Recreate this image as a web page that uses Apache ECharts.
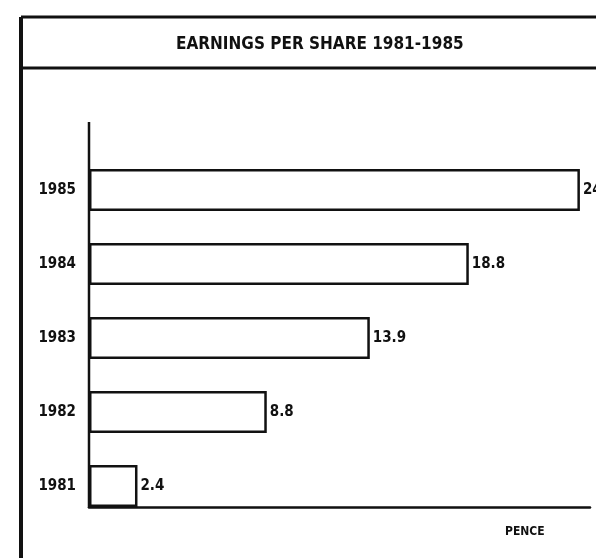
<!DOCTYPE html>
<html>
<head>
<meta charset="utf-8">
<script src="https://cdn.jsdelivr.net/npm/echarts@6/dist/echarts.min.js"></script>
<style>
  html, body { margin: 0; padding: 0; background: #fff; }
  #chart { width: 596px; height: 558px; }
</style>
</head>
<body>
<div id="chart"></div>
<script>
const years = ["1981", "1982", "1983", "1984", "1985"];
const earnings = [2.4, 8.8, 13.9, 18.8, 24.3];
const titleText = "EARNINGS PER SHARE 1981-1985";
const unitText = "PENCE";

const chart = echarts.init(document.getElementById("chart"));
const ink = "#111";
const narrow = "'Liberation Sans Narrow', 'DejaVu Sans Condensed', sans-serif";

chart.setOption({
    animation: false,
    backgroundColor: "#fff",
    grid: { left: 89, right: 6, top: 153, bottom: 35 },
    xAxis: {
        type: "value",
        min: 0,
        max: 24.8,
        // baseline sits on the bottom edge of the 1981 bar
        offset: -16,
        axisLine: { show: true, lineStyle: { color: ink, width: 2.5 } },
        axisTick: { show: false },
        axisLabel: { show: false },
        splitLine: { show: false },
    },
    yAxis: {
        type: "category",
        data: years,
        axisLine: { show: false },
        axisTick: { show: false },
        axisLabel: {
            color: ink,
            fontFamily: narrow,
            fontWeight: "bold",
            fontSize: 15,
            margin: 13,
        },
    },
    series: [
        {
            type: "bar",
            data: earnings,
            barWidth: 42,
            itemStyle: { color: "#fff", borderColor: ink, borderWidth: 2.5 },
            label: {
                show: true,
                position: "right",
                distance: 3,
                color: ink,
                fontFamily: narrow,
                fontWeight: "bold",
                fontSize: 15,
            },
        },
    ],
    graphic: [
        // outer frame and title box
        { type: "line", shape: { x1: 21, y1: 17, x2: 596, y2: 17 }, style: { stroke: ink, lineWidth: 3 } },
        { type: "line", shape: { x1: 21, y1: 17, x2: 21, y2: 558 }, style: { stroke: ink, lineWidth: 4 } },
        { type: "line", shape: { x1: 21, y1: 68, x2: 596, y2: 68 }, style: { stroke: ink, lineWidth: 3 } },
        // vertical axis rule, running from above the first bar down to the baseline
        { type: "line", shape: { x1: 89, y1: 122, x2: 89, y2: 508 }, style: { stroke: ink, lineWidth: 2.5 } },
        {
            type: "text", left: 176, top: 36,
            style: { text: titleText, fill: ink, font: "bold 17px " + narrow },
        },
        {
            type: "text", left: 505, top: 526,
            style: { text: unitText, fill: ink, font: "bold 12px " + narrow },
        },
    ],
});

window.addEventListener("resize", function () {
    chart.resize();
});
</script>
</body>
</html>
